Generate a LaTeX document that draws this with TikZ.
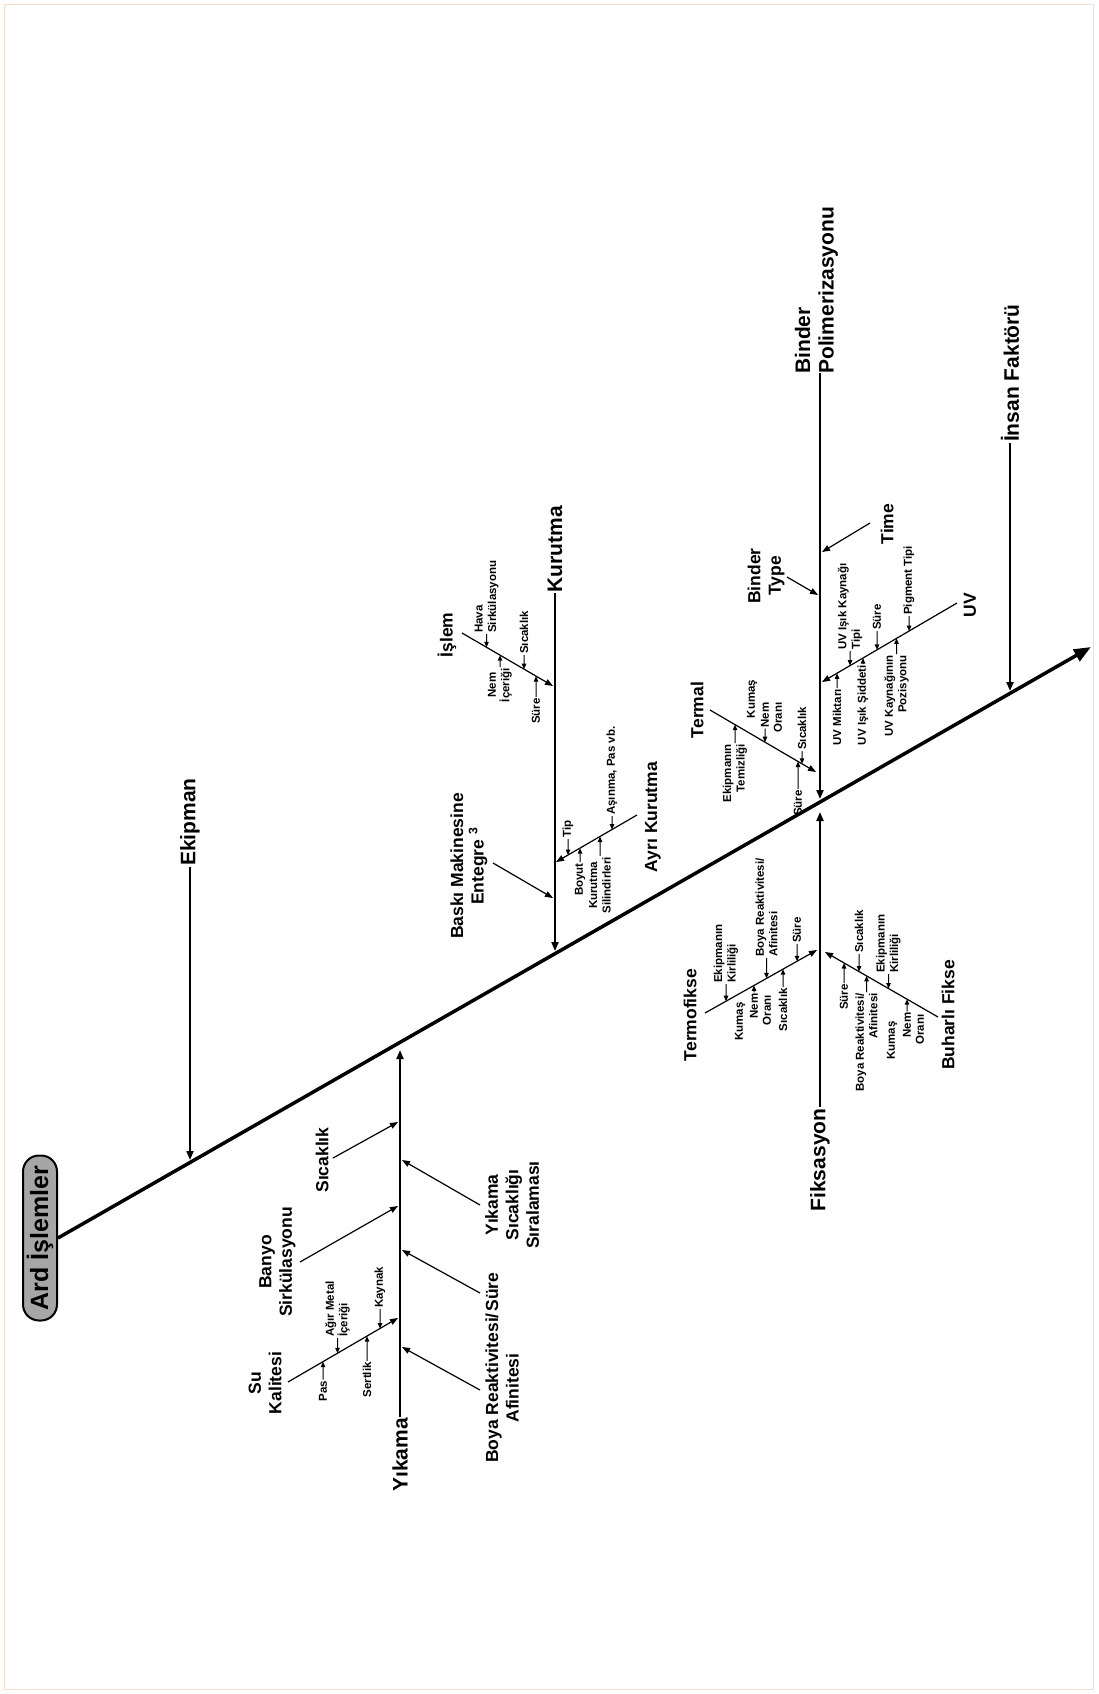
\documentclass[tikz,border=0pt]{standalone}
\usepackage{fontspec}
\setmainfont{Liberation Sans}
\usetikzlibrary{arrows.meta,calc}
\definecolor{framecol}{RGB}{248,222,200}
\definecolor{titlegray}{RGB}{166,166,166}
\tikzset{
  lblS/.style={rotate=90, inner sep=1pt, font=\bfseries\fontsize{11.5}{13.5}\selectfont, align=center},
  lblM/.style={rotate=90, inner sep=1pt, font=\bfseries\fontsize{17.5}{20.5}\selectfont, align=center},
  lblL/.style={rotate=90, inner sep=1pt, font=\bfseries\fontsize{21}{23.5}\selectfont, align=center},
  spinearr/.style={line width=3.5pt, -{Triangle[length=17pt,width=13pt]}},
  bonearr/.style={line width=2pt, -{Triangle[length=9pt,width=7pt]}},
  sbonearr/.style={line width=1.2pt, -{Triangle[length=8pt,width=6pt]}},
  sarr/.style={line width=1pt, -{Triangle[length=5.5pt,width=4.5pt]}},
}
\begin{document}
\begin{tikzpicture}[x=1pt,y=-1pt]
\useasboundingbox (0,0) rectangle (1098,1694);
\draw[framecol, line width=1pt] (4.5,4.5) rectangle (1093.5,1689.5);

% ---------------- title and spine
\node[rotate=90, draw=black, line width=2pt, fill=titlegray, rounded corners=16pt,
      minimum height=34pt, minimum width=165pt, inner sep=0pt,
      font=\bfseries\fontsize{25}{28}\selectfont] (title) at (40,1238) {Ard İşlemler};
\coordinate (spE) at (1091,647);
\draw[spinearr] (title.south) -- (spE);

% ---------------- main bones
\node[lblL] (ekip) at (190,822) {Ekipman};
\coordinate (ekipTip) at (190,1160);
\draw[bonearr] (ekip.west) -- (ekipTip);

\node[lblL] (yik) at (400,1455) {Yıkama};
\coordinate (yikTip) at (400,1050);
\draw[bonearr] (yik.east) -- (yikTip);

\node[lblL] (kur) at (555,549) {Kurutma};
\coordinate (kurTip) at (555,951);
\draw[bonearr] (kur.west) -- (kurTip);

\node[lblL] (fik) at (820,1160) {Fiksasyon};
\coordinate (fikTip) at (820,812);
\draw[bonearr] (fik.east) -- (fikTip);

\node[lblL, align=left, anchor=west] (bp) at (816.5,375) {Binder\\Polimerizasyonu};
\coordinate (bpTop) at (820,373);
\coordinate (bpTip) at (820,799);
\draw[bonearr] (bpTop) -- (bpTip);

\node[lblL] (ins) at (1010,373) {İnsan Faktörü};
\coordinate (insTip) at (1010,691);
\draw[bonearr] (ins.west) -- (insTip);

% ---------------- Yıkama causes
\node[lblM] (sicY) at (322,1160) {Sıcaklık};
\coordinate (sicYa) at (333,1158); \coordinate (sicYb) at (398,1122);
\draw[sbonearr] (sicYa) -- (sicYb);

\node[lblM] (banyo) at (277.5,1262) {Banyo\\Sirkülasyonu};
\coordinate (banA) at (300,1262); \coordinate (banB) at (398,1206);
\draw[sbonearr] (banA) -- (banB);

\node[lblM] (su) at (265,1383) {Su\\Kalitesi};
\coordinate (suA) at (288,1382); \coordinate (suB) at (398,1318);
\draw[sbonearr] (suA) -- (suB);

\node[lblM] (ysr) at (512,1205) {Yıkama\\Sıcaklığı\\Sıralaması};
\coordinate (ysrA) at (480,1205); \coordinate (ysrB) at (402,1160);
\draw[sbonearr] (ysrA) -- (ysrB);

\node[lblM] (sureY) at (492,1292) {Süre};
\coordinate (sureYa) at (480,1293); \coordinate (sureYb) at (402,1250);
\draw[sbonearr] (sureYa) -- (sureYb);

\node[lblM] (braY) at (502,1388) {Boya Reaktivitesi/\\Afinitesi};
\coordinate (braYa) at (480,1390); \coordinate (braYb) at (402,1347);
\draw[sbonearr] (braYa) -- (braYb);

% Su Kalitesi details
\node[lblS] (pas) at (323,1391) {Pas};
\draw[sarr] (pas.east) -- (intersection of pas.east--pas.west and suA--suB);
\node[lblS, align=left, anchor=west] (agir) at (337.5,1338) {Ağır Metal\\İçeriği};
\draw[sarr] (agir.west) -- (intersection of agir.west--agir.east and suA--suB);
\node[lblS, anchor=east] (sert) at (367,1361) {Sertlik};
\draw[sarr] (sert.east) -- (intersection of sert.east--sert.west and suA--suB);
\node[lblS, anchor=west] (kay) at (380,1309) {Kaynak};
\draw[sarr] (kay.west) -- (intersection of kay.west--kay.east and suA--suB);

% ---------------- Kurutma causes
\node[lblM] (islem) at (447,635) {İşlem};
\coordinate (isA) at (462,633); \coordinate (isB) at (553,686);
\draw[sbonearr] (isA) -- (isB);
\node[lblS, align=left, anchor=west] (hava) at (486.5,634) {Hava\\Sirkülasyonu};
\draw[sarr] (hava.west) -- (intersection of hava.west--hava.east and isA--isB);
\node[lblS, anchor=west] (sicI) at (524,655) {Sıcaklık};
\draw[sarr] (sicI.west) -- (intersection of sicI.west--sicI.east and isA--isB);
\node[lblS, anchor=east] (nemI) at (500,667) {Nem\\İçeriği};
\draw[sarr] (nemI.east) -- (intersection of nemI.east--nemI.west and isA--isB);
\node[lblS, anchor=east] (sureI) at (536,697) {Süre};
\draw[sarr] (sureI.east) -- (intersection of sureI.east--sureI.west and isA--isB);

\node[lblM] (baski) at (469,866) {Baskı Makinesine\\Entegre \textsuperscript{3}};
\coordinate (bskA) at (493,863); \coordinate (bskB) at (553,898);
\draw[sbonearr] (bskA) -- (bskB);

\node[lblM] (ayri) at (653,817) {Ayrı Kurutma};
\coordinate (akA) at (637,815); \coordinate (akB) at (556,862);
\draw[sbonearr] (akA) -- (akB);
\node[lblS, anchor=west] (tip) at (568,839) {Tip};
\draw[sarr] (tip.west) -- (intersection of tip.west--tip.east and akA--akB);
\node[lblS, anchor=east] (boyut) at (580,862) {Boyut};
\draw[sarr] (boyut.east) -- (intersection of boyut.east--boyut.west and akA--akB);
\node[lblS, anchor=east] (kursil) at (600,856) {Kurutma\\Silindirleri};
\draw[sarr] (kursil.east) -- (intersection of kursil.east--kursil.west and akA--akB);
\node[lblS, anchor=west] (asin) at (612,816) {Aşınma, Pas vb.};
\draw[sarr] (asin.west) -- (intersection of asin.west--asin.east and akA--akB);

% ---------------- Fiksasyon causes
\node[lblM] (tfx) at (690,1015) {Termofikse};
\coordinate (tfA) at (705,1013); \coordinate (tfB) at (817,950);
\draw[sbonearr] (tfA) -- (tfB);
\node[lblS, align=left, anchor=west] (ekk1) at (726,984) {Ekipmanın\\Kirliliği};
\draw[sarr] (ekk1.west) -- (intersection of ekk1.west--ekk1.east and tfA--tfB);
\node[lblS] (kma1) at (740,1021.5) {Kumaş};
\node[lblS] (nem1) at (754,1006) {Nem};
\node[lblS] (orn1) at (767,1010) {Oranı};
\draw[sarr] (nem1.east) -- (intersection of nem1.east--nem1.west and tfA--tfB);
\node[lblS, align=left, anchor=west] (bra1) at (766.5,958) {Boya Reaktivitesi/\\Afinitesi};
\draw[sarr] (bra1.west) -- (intersection of bra1.west--bra1.east and tfA--tfB);
\node[lblS, anchor=east] (sic1) at (783,987) {Sıcaklık};
\draw[sarr] (sic1.east) -- (intersection of sic1.east--sic1.west and tfA--tfB);
\node[lblS, anchor=west] (sur1) at (797,944) {Süre};
\draw[sarr] (sur1.west) -- (intersection of sur1.west--sur1.east and tfA--tfB);

\node[lblM] (bfx) at (948,1015) {Buharlı Fikse};
\coordinate (bfA) at (938,1017); \coordinate (bfB) at (825,952);
\draw[sbonearr] (bfA) -- (bfB);
\node[lblS, anchor=east] (sur2) at (844,983) {Süre};
\draw[sarr] (sur2.east) -- (intersection of sur2.east--sur2.west and bfA--bfB);
\node[lblS, anchor=west] (sic2) at (859,954) {Sıcaklık};
\draw[sarr] (sic2.west) -- (intersection of sic2.west--sic2.east and bfA--bfB);
\node[lblS, align=right, anchor=east] (bra2) at (866.5,992) {Boya Reaktivitesi/\\Afinitesi};
\draw[sarr] (bra2.east) -- (intersection of bra2.east--bra2.west and bfA--bfB);
\node[lblS, align=left, anchor=west] (ekk2) at (888.5,974) {Ekipmanın\\Kirliliği};
\draw[sarr] (ekk2.west) -- (intersection of ekk2.west--ekk2.east and bfA--bfB);
\node[lblS] (kma2) at (892,1040.5) {Kumaş};
\node[lblS] (nem2) at (907,1025) {Nem};
\node[lblS] (orn2) at (920,1029.5) {Oranı};
\draw[sarr] (nem2.east) -- (intersection of nem2.east--nem2.west and bfA--bfB);

% ---------------- Binder causes
\node[lblM] (btype) at (766,576) {Binder\\Type};
\coordinate (btA) at (787,577); \coordinate (btB) at (818,595);
\draw[sbonearr] (btA) -- (btB);

\node[lblM] (time) at (887,524) {Time};
\coordinate (tmeA) at (870,523); \coordinate (tmeB) at (822,552);
\draw[sbonearr] (tmeA) -- (tmeB);

\node[lblM] (termal) at (697,710) {Termal};
\coordinate (tmA) at (710,710); \coordinate (tmB) at (816,772);
\draw[sbonearr] (tmA) -- (tmB);
\node[lblS, align=right, anchor=east] (ekt) at (735,743) {Ekipmanın\\Temizliği};
\draw[sarr] (ekt.east) -- (intersection of ekt.east--ekt.west and tmA--tmB);
\node[lblS] (kma3) at (752,699) {Kumaş};
\node[lblS] (nem3) at (765,715) {Nem};
\node[lblS] (orn3) at (778,717.5) {Oranı};
\draw[sarr] (nem3.west) -- (intersection of nem3.west--nem3.east and tmA--tmB);
\node[lblS, anchor=west] (sic3) at (802,751) {Sıcaklık};
\draw[sarr] (sic3.west) -- (intersection of sic3.west--sic3.east and tmA--tmB);
\node[lblS, anchor=east] (sur3) at (798,789) {Süre};
\draw[sarr] (sur3.east) -- (intersection of sur3.east--sur3.west and tmA--tmB);

\node[lblM] (uv) at (970,605) {UV};
\coordinate (uvA) at (957,603); \coordinate (uvB) at (822,682);
\draw[sbonearr] (uvA) -- (uvB);
\node[lblS, anchor=east] (uvm) at (837,688) {UV Miktarı};
\draw[sarr] (uvm.east) -- (intersection of uvm.east--uvm.west and uvA--uvB);
\node[lblS, align=left, anchor=west] (uvk) at (850,651) {UV Işık Kaynağı\\Tipi};
\draw[sarr] (uvk.west) -- (intersection of uvk.west--uvk.east and uvA--uvB);
\node[lblS, anchor=east] (uvs) at (863,664) {UV Işık Şiddeti};
\draw[sarr] (uvs.east) -- (intersection of uvs.east--uvs.west and uvA--uvB);
\node[lblS, anchor=west] (sur4) at (877,631) {Süre};
\draw[sarr] (sur4.west) -- (intersection of sur4.west--sur4.east and uvA--uvB);
\node[lblS, align=right, anchor=east] (uvp) at (896.5,654) {UV Kaynağının\\Pozisyonu};
\draw[sarr] (uvp.east) -- (intersection of uvp.east--uvp.west and uvA--uvB);
\node[lblS, anchor=west] (pig) at (909,616) {Pigment Tipi};
\draw[sarr] (pig.west) -- (intersection of pig.west--pig.east and uvA--uvB);

\end{tikzpicture}
\end{document}
